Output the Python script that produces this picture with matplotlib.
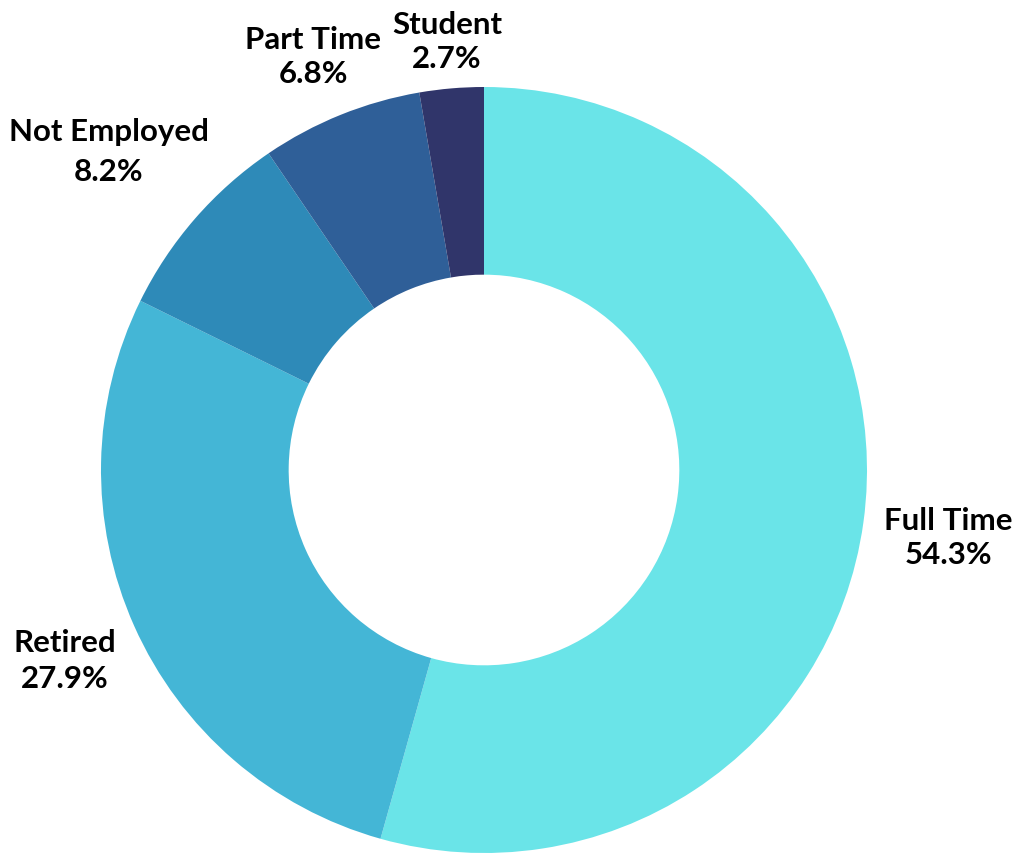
import matplotlib
matplotlib.use('Agg')
import matplotlib.pyplot as plt

# Employment status breakdown
categories = ['Full Time', 'Retired', 'Not Employed', 'Part Time', 'Student']
shares = [54.3, 27.9, 8.2, 6.8, 2.7]
colors = ['#6AE4E8', '#44B6D6', '#2E8AB8', '#2F5F98', '#30356A']

# label centres in pixels (x from left, y from top)
label_pos = [(948, 538), (65, 661), (109, 152), (313, 57), (447, 42)]
label_gap = [34, 36, 40, 34, 35]

W, H = 1015, 855
fig = plt.figure(figsize=(W / 100, H / 100), dpi=100)

cx, cy, r = 484, 470, 383
ax = fig.add_axes([(cx - r) / W, (H - cy - r) / H, 2 * r / W, 2 * r / H])
ax.pie(shares, colors=colors, startangle=90, counterclock=False,
       radius=1.0, wedgeprops=dict(width=0.49, linewidth=0))
ax.set_xlim(-1, 1)
ax.set_ylim(-1, 1)
ax.set_aspect('equal')
ax.axis('off')

for name, val, (x, y), gap in zip(categories, shares, label_pos, label_gap):
    fig.text(x / W, 1 - (y - gap / 2) / H, name, ha='center', va='center',
             fontsize=22.5, fontweight='bold', family='Lato', color='#000000')
    fig.text(x / W, 1 - (y + gap / 2) / H, f'{val}%', ha='center', va='center',
             fontsize=22.5, fontweight='bold', family='Lato', color='#000000')

fig.savefig('out.png', dpi=100)
